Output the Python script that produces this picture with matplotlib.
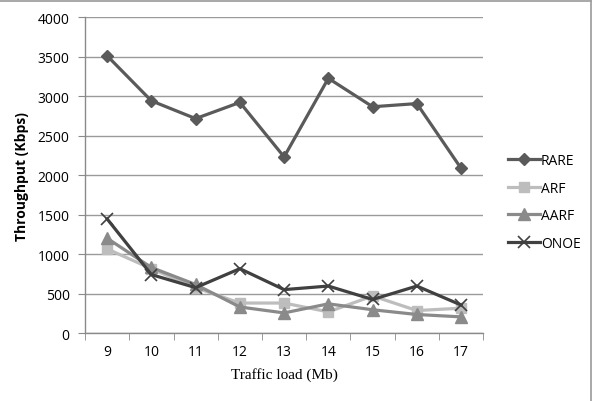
import numpy as np
import matplotlib.pyplot as plt
from matplotlib.lines import Line2D

loads = ['9', '10', '11', '12', '13', '14', '15', '16', '17']
rare = [3510, 2940, 2715, 2920, 2230, 3225, 2865, 2905, 2085]
arf = [1065, 815, 575, 380, 380, 268, 470, 285, 315]
aarf = [1200, 830, 615, 330, 255, 370, 295, 235, 205]
onoe = [1445, 740, 575, 815, 550, 595, 425, 595, 355]

series = [
    ('RARE', rare, '#5a5a5a', 'D', 6),
    ('ARF', arf, '#bdbdbd', 's', 7),
    ('AARF', aarf, '#8a8a8a', '^', 8),
    ('ONOE', onoe, '#404040', 'x', 8),
]

tick_font = 'Open Sans'

fig = plt.figure(figsize=(5.97, 4.02), dpi=100)
ax = fig.add_axes([0.1424, 0.169, 0.667, 0.786])

x = np.arange(len(loads))
for name, vals, col, mk, ms in series:
    if mk == 'x':
        ax.plot(x, vals, color=col, lw=2.3, marker=mk, ms=ms, mew=1.2,
                label=name, clip_on=False, zorder=3)
    else:
        ax.plot(x, vals, color=col, lw=2.3, marker=mk, ms=ms,
                label=name, clip_on=False, zorder=3)

ax.set_xlim(-0.5, len(loads) - 0.5)
ax.set_ylim(0, 4000)
ax.set_yticks(np.arange(0, 4001, 500))
ax.yaxis.grid(True, color='#9a9a9a', lw=1)
ax.set_axisbelow(True)

ax.set_xticks(x)
ax.set_xticklabels(loads)
ax.set_xticks(np.arange(-0.5, len(loads), 1), minor=True)
ax.tick_params(axis='x', which='major', length=0, pad=8, labelsize=10)
ax.tick_params(axis='x', which='minor', length=5, color='#8a8a8a', direction='out')
ax.tick_params(axis='y', length=5, color='#8a8a8a', direction='out', pad=6, labelsize=10)
for lab in ax.get_xticklabels() + ax.get_yticklabels():
    lab.set_family(tick_font)

for s in ['top', 'right']:
    ax.spines[s].set_visible(False)
for s in ['left', 'bottom']:
    ax.spines[s].set_color('#8a8a8a')
    ax.spines[s].set_linewidth(1)

ax.set_xlabel('Traffic load (Mb)', family='Liberation Serif', fontsize=11, labelpad=6)
ax.set_ylabel('Throughput (Kbps)', family=tick_font, fontsize=10, fontweight='bold', labelpad=6)

leg = ax.legend(loc='center left', bbox_to_anchor=(1.03, 0.415), frameon=False,
                prop={'family': tick_font, 'size': 10}, handlelength=2.3,
                labelspacing=0.9, handletextpad=0.1)

fig.add_artist(Line2D([0, 0.99], [0.995, 0.995], color='#9a9a9a', lw=1.2))
fig.add_artist(Line2D([0.99, 0.99], [0, 0.995], color='#9a9a9a', lw=1.2))

fig.savefig('out.png', dpi=100)
